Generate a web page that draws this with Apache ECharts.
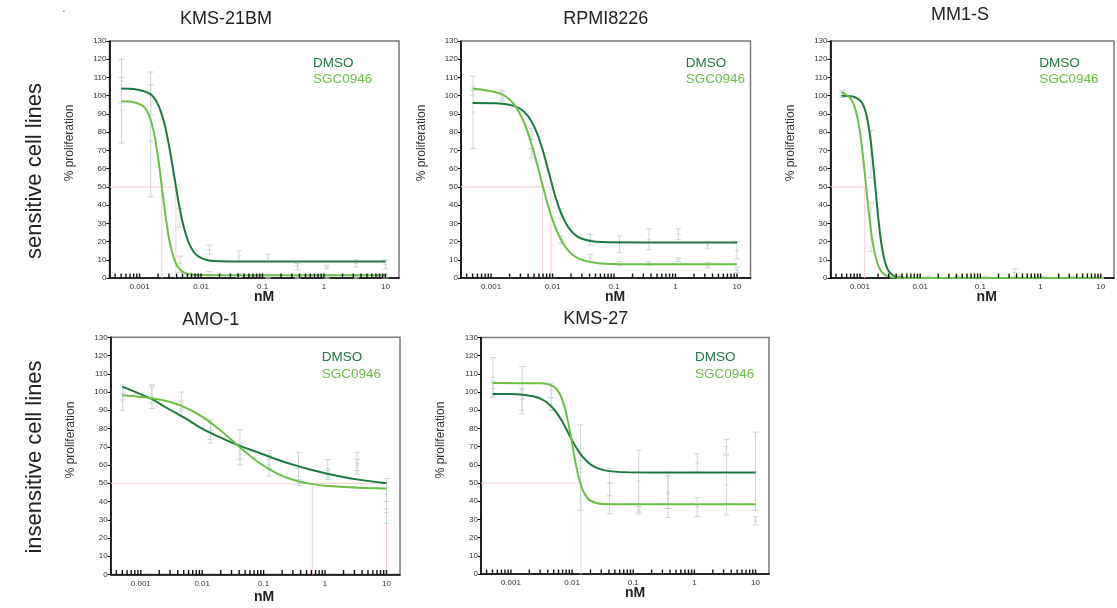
<!DOCTYPE html>
<html><head><meta charset="utf-8">
<script src="https://cdn.jsdelivr.net/npm/echarts@6/dist/echarts.min.js"></script>
<style>html,body{margin:0;padding:0;background:#fff}#c{width:1117px;height:608px}</style>
</head><body><div id="c"></div>
<script>
// ---------- text ----------
const panelTitles = ['KMS-21BM', 'RPMI8226', 'MM1-S', 'AMO-1', 'KMS-27'];
const rowLabels = ['sensitive cell lines', 'insensitive cell lines'];
const seriesNames = ['DMSO', 'SGC0946'];
const yAxisName = '% proliferation';
const xAxisName = 'nM';
const xTickDecades = [0.0001, 0.001, 0.01, 0.1, 1, 10];
const xTickMultipliers = [1, 2, 3, 4, 5, 6, 7, 8, 9];

// ---------- measured doses (error bars) ----------
const doses = [0.000508, 0.00152, 0.00457, 0.0137, 0.0412, 0.123, 0.370, 1.11, 3.33, 10];

// ---------- fitted curves ----------
const p1DmsoX = [0.0005, 0.000798, 0.001462, 0.001982, 0.002523, 0.003027, 0.003631, 0.004355, 0.005224, 0.006653, 0.009016, 0.01652, 0.1, 10];
const p1DmsoY = [104.0, 103.7, 101.1, 95.4, 84.9, 72.3, 56.5, 40.7, 28.1, 17.6, 11.9, 9.3, 9.0, 9.0];
const p1SgcX = [0.0005, 0.000733, 0.001161, 0.001462, 0.001758, 0.002018, 0.002317, 0.002661, 0.003055, 0.003673, 0.004624, 0.007328, 0.1, 10];
const p1SgcY = [97.0, 96.7, 94.1, 88.3, 77.8, 65.1, 49.3, 33.4, 20.7, 10.2, 4.4, 1.8, 1.5, 1.5];

const p2DmsoX = [0.0005, 0.001197, 0.002649, 0.003936, 0.005408, 0.006871, 0.00871, 0.01104, 0.01403, 0.01928, 0.02864, 0.06339, 0.3, 10];
const p2DmsoY = [96.0, 95.8, 93.7, 89.0, 80.6, 70.5, 57.8, 45.0, 34.9, 26.5, 21.8, 19.7, 19.5, 19.5];
const p2SgcX = [0.0005, 0.001452, 0.002366, 0.003508, 0.004699, 0.00631, 0.008472, 0.01135, 0.01683, 0.02742, 0.07311, 0.3, 10];
const p2SgcY = [104.0, 101.0, 95.2, 84.6, 71.8, 55.8, 39.7, 26.9, 16.3, 10.5, 7.8, 7.5, 7.5];

const p3DmsoX = [0.0005, 0.000721, 0.00104, 0.001247, 0.001445, 0.001611, 0.001799, 0.002009, 0.002239, 0.002594, 0.003112, 0.004487, 0.02, 10];
const p3DmsoY = [100.0, 99.7, 96.9, 90.9, 79.9, 66.6, 50.0, 33.4, 20.1, 9.1, 3.1, 0.3, 0, 0];
const p3SgcX = [0.0005, 0.000679, 0.000834, 0.000984, 0.001112, 0.001259, 0.001426, 0.001611, 0.001901, 0.002333, 0.003516, 0.02, 10];
const p3SgcY = [101.8, 98.9, 92.7, 81.5, 68.0, 51.0, 34.0, 20.5, 9.3, 3.1, 0.3, 0, 0];

const p4DmsoX = [0.0005, 0.0015, 0.0025, 0.005, 0.01, 0.02, 0.04, 0.08, 0.16, 0.3, 0.55, 1, 3.5, 10];
const p4DmsoY = [103.0, 96.2, 91.8, 86.1, 80.0, 75.0, 70.6, 67.0, 63.2, 60.2, 57.7, 55.5, 52.0, 50.0];
const p4SgcX = [0.0005, 0.0015, 0.0025, 0.005, 0.01, 0.02, 0.04, 0.08, 0.16, 0.3, 0.55, 1, 3.5, 10];
const p4SgcY = [98.2, 96.6, 95.2, 91.9, 86.5, 78.9, 70.0, 61.8, 55.6, 51.9, 49.8, 48.6, 47.5, 47.2];

const p5DmsoX = [0.0005, 0.000951, 0.002307, 0.003589, 0.005117, 0.006683, 0.00871, 0.01135, 0.01483, 0.02113, 0.03289, 0.0798, 0.5, 10];
const p5DmsoY = [99.0, 98.9, 97.7, 95.1, 90.3, 84.6, 77.4, 70.2, 64.5, 59.7, 57.1, 55.9, 55.8, 55.8];
const p5SgcX = [0.0005, 0.003162, 0.005012, 0.00631, 0.007586, 0.00871, 0.01, 0.01148, 0.01318, 0.01585, 0.01995, 0.03162, 0.5, 10];
const p5SgcY = [105.0, 104.8, 103.0, 98.9, 91.6, 82.7, 71.7, 60.6, 51.7, 44.4, 40.3, 38.5, 38.3, 38.3];

// ---------- error bars [mean, low, high] at each dose ----------
const e1Dmso = [[108,96,120],[101,89.5,113],[33,28,38],[15.5,13,18],[12,9,15],[11,9,13],[6.5,4.5,8],[6,5,7],[8,6,10],[7.5,5,10]];
const e1Sgc  = [[92,74,110],[75,44.5,106],[8,3,12],[2,1,3.5],[1.5,0.5,2.5],[1,0,2],[1,0,2],[1,0,2],[1,0,2],[1,0,2]];
const e2Dmso = [[91,71,103],[99,97,102],[79,76,82],[36,33,38],[21,18,24],[19,14,23],[21,15.5,27],[24,21,27],[18,16,20],[15,10.5,20]];
const e2Sgc  = [[105,100,110.7],[100,98,103],[68,66,71],[21,19,23],[11,9,13],[8,7,9],[8,7,9],[10,9,11],[7,5.5,8.5],[4.5,3,6]];
const e3Dmso = [[100,99,102],[68,55,81],[1,0,2],[0.5,0,1],[0.5,0,1],[0.5,0,1],[3,1,5],[0.5,0,1],[0.5,0,1],[0.5,0,1]];
const e3Sgc  = [[102,100,103],[27,14.5,41],[0.5,0,1],[0,0,0.5],[0,0,0.5],[0,0,0.5],[0,0,0.5],[0,0,0.5],[0,0,0.5],[0,0,0.5]];
const e4Dmso = [[100,96,104],[97,91,104],[95,90,100],[79,74,85],[70,63,79.5],[63,58,68],[58,52,67],[58,53,63],[61,55,67],[44,36,52.6]];
const e4Sgc  = [[95,90,99],[98,94,103],[91,86.5,95],[79,72,84],[66,60,72],[60,54,65],[54,48.6,58],[54,52,57],[60,57,63],[34,28,40]];
const e5Dmso = [[102,98,106],[101,88,114],[93,90,97],[62,56,66],[50,43,58],[51,34,68],[45,36,54],[61,56,66],[70,66,74],[56,35,78]];
const e5Sgc  = [[108,97,119],[96,90,102],[101,97,105],[58,35,82],[43,33,50],[35,33,37],[44,31,56],[37,31.5,42],[49,32.5,65],[29,27,31.5]];

// ---------- IC50 guide lines (x where curves cross 50 %) ----------
const ic1 = [0.0039, 0.0023];
const ic2 = [0.0094, 0.0069];
const ic3 = [0.0012];
const ic4 = [10, 0.62];
const ic5 = [0.014];

// ---------- style / layout ----------
const FONT = '"Liberation Sans", Arial, Helvetica, sans-serif';
const DARK = '#1c7a40', LIGHT = '#6cbf48', ERR = '#cdd6d6', PINK = '#f6cdd0';
const X_MIN = 0.000324, X_MAX = 16.6;

const panels = [
  {grid:{left:109.5, top:41, width:289.5, height:237}, titlePos:[226,19], nmPos:[264,297.5], legendPos:[313,63], yNamePos:[70,143],
   curves:[[p1DmsoX,p1DmsoY],[p1SgcX,p1SgcY]], errs:[e1Dmso,e1Sgc], ic:ic1},
  {grid:{left:461, top:41, width:289.5, height:237}, titlePos:[605.7,19], nmPos:[615,297.5], legendPos:[685.7,63], yNamePos:[422,143],
   curves:[[p2DmsoX,p2DmsoY],[p2SgcX,p2SgcY]], errs:[e2Dmso,e2Sgc], ic:ic2},
  {grid:{left:830.5, top:41, width:289.5, height:237}, titlePos:[960,15], nmPos:[986.7,297.5], legendPos:[1039.3,63], yNamePos:[791,143],
   curves:[[p3DmsoX,p3DmsoY],[p3SgcX,p3SgcY]], errs:[e3Dmso,e3Sgc], ic:ic3},
  {grid:{left:110.7, top:337.3, width:289.3, height:237.2}, titlePos:[210.7,320], nmPos:[264,597], legendPos:[321.7,357.7], yNamePos:[71,440],
   curves:[[p4DmsoX,p4DmsoY],[p4SgcX,p4SgcY]], errs:[e4Dmso,e4Sgc], ic:ic4},
  {grid:{left:481, top:337.5, width:288, height:236.5}, titlePos:[595.7,319], nmPos:[635,593.5], legendPos:[695,357.5], yNamePos:[441,440],
   curves:[[p5DmsoX,p5DmsoY],[p5SgcX,p5SgcY]], errs:[e5Dmso,e5Sgc], ic:ic5}
];

const tickVals = [];
xTickDecades.forEach(d => xTickMultipliers.forEach(m => {
  const v = +(d * m).toPrecision(6);
  if (v >= X_MIN && v <= X_MAX) tickVals.push(v);
}));

function fmtLog(v) {
  const l = Math.log10(v);
  if (Math.abs(l - Math.round(l)) > 1e-6) return '';
  return String(+(+v).toPrecision(6));
}

const grids = [], xAxes = [], yAxes = [], series = [], texts = [];
panels.forEach((p, i) => {
  grids.push(Object.assign({show:true, borderColor:'#7a7a7a', borderWidth:1.5, backgroundColor:'transparent'}, p.grid));
  xAxes.push({type:'log', logBase:10, gridIndex:i, min:X_MIN, max:X_MAX,
    axisLine:{show:true, onZero:false, lineStyle:{color:'#000', width:1.6}},
    axisTick:{show:false}, splitLine:{show:false},
    axisLabel:{fontSize:8, color:'#333', margin:5, fontFamily:FONT, interval:0, formatter:fmtLog}});
  yAxes.push({type:'value', gridIndex:i, min:0, max:130, interval:10,
    axisLine:{show:true, lineStyle:{color:'#000', width:1.6}},
    axisTick:{show:true, length:3, lineStyle:{color:'#000', width:1}}, splitLine:{show:false},
    axisLabel:{fontSize:8, color:'#333', margin:3, fontFamily:FONT}});

  // IC50 guide lines
  const icList = p.ic;
  series.push({type:'custom', xAxisIndex:i, yAxisIndex:i, silent:true, z:1, clip:false,
    data: icList.map(v => [v, 50]), encode:{x:0, y:1},
    renderItem: (params, api) => {
      const v = api.value(0);
      const t = api.coord([v, 50]), b = api.coord([v, 0]);
      const ch = [{type:'line', shape:{x1:t[0], y1:t[1], x2:b[0], y2:b[1]}, style:{stroke:PINK, lineWidth:1}}];
      if (params.dataIndex === 0) {
        const l = api.coord([X_MIN, 50]), r = api.coord([Math.max.apply(null, icList), 50]);
        ch.push({type:'line', shape:{x1:l[0], y1:l[1], x2:r[0], y2:r[1]}, style:{stroke:PINK, lineWidth:1}});
      }
      return {type:'group', children:ch};
    }});

  // error bars
  p.errs.forEach((arr) => {
    series.push({type:'custom', xAxisIndex:i, yAxisIndex:i, silent:true, z:2,
      data: doses.map((d, k) => [d, arr[k][0], arr[k][1], arr[k][2]]), encode:{x:0, y:[1,2,3]},
      renderItem: (params, api) => {
        const x = api.value(0);
        const m = api.coord([x, api.value(1)]), lo = api.coord([x, api.value(2)]), hi = api.coord([x, api.value(3)]);
        const st = {stroke:ERR, lineWidth:1};
        return {type:'group', children:[
          {type:'line', shape:{x1:lo[0], y1:lo[1], x2:hi[0], y2:hi[1]}, style:st},
          {type:'line', shape:{x1:lo[0]-3, y1:lo[1], x2:lo[0]+3, y2:lo[1]}, style:st},
          {type:'line', shape:{x1:hi[0]-3, y1:hi[1], x2:hi[0]+3, y2:hi[1]}, style:st},
          {type:'line', shape:{x1:m[0]-2, y1:m[1], x2:m[0]+2, y2:m[1]}, style:st}
        ]};
      }});
  });

  // fitted curves
  p.curves.forEach((c, k) => {
    series.push({type:'line', name:seriesNames[k], xAxisIndex:i, yAxisIndex:i, silent:true, z:3,
      data: c[0].map((x, j) => [x, c[1][j]]), smooth:0.3, showSymbol:false,
      lineStyle:{color: k === 0 ? DARK : LIGHT, width:2}, itemStyle:{color: k === 0 ? DARK : LIGHT}});
  });

  // axis ticks along the log axis (drawn upward, inside)
  series.push({type:'custom', xAxisIndex:i, yAxisIndex:i, silent:true, z:5, clip:false,
    data: tickVals.map(v => [v, 0]), encode:{x:0, y:1},
    renderItem: (params, api) => {
      const q = api.coord([api.value(0), 0]);
      return {type:'line', shape:{x1:q[0], y1:q[1], x2:q[0], y2:q[1]-4.5}, style:{stroke:'#111', lineWidth:1.4}};
    }});

  // texts
  texts.push({type:'text', x:p.titlePos[0], y:p.titlePos[1], style:{text:panelTitles[i], fontSize:18, fontFamily:FONT, fill:'#222', align:'center', verticalAlign:'middle'}});
  texts.push({type:'text', x:p.nmPos[0], y:p.nmPos[1], style:{text:xAxisName, fontSize:14, fontWeight:'bold', fontFamily:FONT, fill:'#222', align:'center', verticalAlign:'middle'}});
  texts.push({type:'text', x:p.yNamePos[0], y:p.yNamePos[1], rotation:Math.PI/2, style:{text:yAxisName, fontSize:12, fontFamily:FONT, fill:'#333', align:'center', verticalAlign:'middle'}});
  texts.push({type:'text', x:p.legendPos[0], y:p.legendPos[1], style:{text:seriesNames[0], fontSize:13.5, fontFamily:FONT, fill:DARK, align:'left', verticalAlign:'middle'}});
  texts.push({type:'text', x:p.legendPos[0], y:p.legendPos[1] + 16.5, style:{text:seriesNames[1], fontSize:13.5, fontFamily:FONT, fill:LIGHT, align:'left', verticalAlign:'middle'}});
});

texts.push({type:'text', x:35, y:171, rotation:Math.PI/2, style:{text:rowLabels[0], fontSize:22, fontFamily:FONT, fill:'#222', align:'center', verticalAlign:'middle'}});
texts.push({type:'text', x:35, y:457, rotation:Math.PI/2, style:{text:rowLabels[1], fontSize:22, fontFamily:FONT, fill:'#222', align:'center', verticalAlign:'middle'}});
texts.push({type:'text', x:64, y:9, style:{text:'.', fontSize:10, fontFamily:FONT, fill:'#444', align:'center', verticalAlign:'middle'}});

const chart = echarts.init(document.getElementById('c'), null, {renderer:'canvas', width:1117, height:608});
chart.setOption({
  animation:false,
  backgroundColor:'#fff',
  grid:grids, xAxis:xAxes, yAxis:yAxes, series:series,
  graphic:{elements:texts}
});
</script>
</body></html>
